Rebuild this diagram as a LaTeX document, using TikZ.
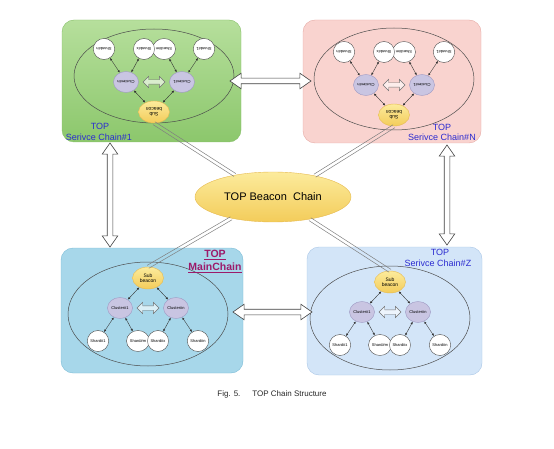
\documentclass[tikz,border=0pt]{standalone}
\usepackage{fontspec}
\setmainfont{Liberation Sans}
\usetikzlibrary{shapes.geometric,shapes.arrows,arrows.meta,calc}
\definecolor{gtop}{HTML}{B6DF9C}
\definecolor{gbot}{HTML}{8CC76C}
\definecolor{gborder}{HTML}{86BF68}
\definecolor{pfill}{HTML}{F9D3CF}
\definecolor{pborder}{HTML}{E6AAA4}
\definecolor{bfill}{HTML}{A7D7EA}
\definecolor{bborder}{HTML}{7CBCD6}
\definecolor{zfill}{HTML}{D3E5F8}
\definecolor{zborder}{HTML}{A9C6E6}
\definecolor{lblblue}{HTML}{2B2BD0}
\definecolor{mainmag}{HTML}{9C1A6A}
\definecolor{sbtop}{HTML}{FCEB9C}
\definecolor{sbbot}{HTML}{F3CC5A}
\definecolor{sbborder}{HTML}{E6BA50}
\definecolor{clfill}{HTML}{C9C5E2}
\definecolor{clborder}{HTML}{9C97C2}
\tikzset{
 bigell/.style={draw=black!70, line width=0.5pt, ellipse, minimum width=160pt, minimum height=102pt, inner sep=0},
 subb/.style={ellipse, draw=sbborder, top color=sbtop, bottom color=sbbot, minimum width=31pt, minimum height=22pt, inner sep=0, font=\fontsize{5}{5.5}\selectfont, align=center},
 clus/.style={ellipse, draw=clborder, fill=clfill, minimum width=25pt, minimum height=21pt, inner sep=0, font=\fontsize{4}{4}\selectfont},
 shard/.style={ellipse, draw=black!70, fill=white, minimum width=20pt, minimum height=21pt, inner sep=0, font=\fontsize{4}{4}\selectfont},
 link/.style={{Latex[length=2.5pt,width=2.2pt]}-{Latex[length=2.5pt,width=2.2pt]}, line width=0.4pt, draw=black!80},
 smallarrow/.style={double arrow, draw=black!55, fill=white, fill opacity=0.6, minimum height=22pt, minimum width=0pt, inner xsep=0pt, inner ysep=2pt, double arrow head extend=3.5pt},
 bigarrow/.style={double arrow, draw=black!75, fill=white, line width=0.6pt, minimum width=0pt, inner xsep=0pt, inner ysep=2.5pt, double arrow head extend=5pt, double arrow tip angle=70},
 dlink/.style={draw=black!50, line width=0.5pt},
 lbl/.style={text=lblblue, font=\fontsize{9}{10}\selectfont, inner sep=0},
 mlbl/.style={text=mainmag, font=\fontsize{10.5}{11}\selectfont\bfseries, inner sep=0},
}
\newcommand\chainstruct[2]{%
 \node[bigell, minimum height=#2] (#1-e) at (0,36) {};
 \node[subb] (#1-sb) at (0,0) {Sub\\beacon};
 \node[clus] (#1-c1) at (-28,30) {Cluster\#1};
 \node[clus] (#1-cn) at (28,30) {Cluster\#n};
 \node[smallarrow] (#1-ar) at (0,30) {};
 \node[shard] (#1-s1) at (-50,63) {Shard\#1};
 \node[shard] (#1-sm) at (-10,63) {Shard\#m};
 \node[shard] (#1-sx) at (10,63) {Shard\#x};
 \node[shard] (#1-sn) at (50,63) {Shard\#n};
 \draw[link] (#1-sb) -- (#1-c1);
 \draw[link] (#1-sb) -- (#1-cn);
 \draw[link] (#1-c1) -- (#1-s1);
 \draw[link] (#1-c1) -- (#1-sm);
 \draw[link] (#1-cn) -- (#1-sx);
 \draw[link] (#1-cn) -- (#1-sn);
}
% two parallel thin lines between two anchors
\newcommand\dbl[2]{%
 \draw[dlink] ($(#1)!1.7pt!90:(#2)$) -- ($(#2)!1.7pt!-90:(#1)$);
 \draw[dlink] ($(#1)!1.7pt!-90:(#2)$) -- ($(#2)!1.7pt!90:(#1)$);
}
\begin{document}
\begin{tikzpicture}[x=1pt,y=-1pt]
\useasboundingbox (0,0) rectangle (554,449);
% boxes
\path[rounded corners=12pt, draw=gborder, top color=gtop, bottom color=gbot] (62,20) rectangle (241,142);
\path[rounded corners=12pt, draw=pborder, fill=pfill] (303,20) rectangle (481,143);
\path[rounded corners=12pt, draw=bborder, fill=bfill] (61,248) rectangle (243,373);
\path[rounded corners=12pt, draw=zborder, fill=zfill] (307,247) rectangle (482,375);
% chain structures
\begin{scope}[shift={(154,112)}, rotate=180, transform shape]
 \chainstruct{g}{94pt}
\end{scope}
\begin{scope}[shift={(394,115)}, rotate=180, transform shape]
 \chainstruct{p}{102pt}
\end{scope}
\begin{scope}[shift={(148,278)}]
 \chainstruct{m}{104pt}
\end{scope}
\begin{scope}[shift={(390,282)}]
 \chainstruct{z}{104pt}
\end{scope}
% central beacon
\node[ellipse, draw=sbborder, top color=sbtop, bottom color=sbbot, minimum width=156pt, minimum height=50pt, inner sep=0, font=\fontsize{11}{12}\selectfont] (beacon) at (273,197) {TOP Beacon\ \ Chain};
\dbl{g-sb.north}{beacon.150}
\dbl{p-sb.north}{beacon.27}
\dbl{m-sb.north}{beacon.207}
\dbl{z-sb.north}{beacon.329}
% big arrows
\coordinate (tl) at (230,81);
\coordinate (tr) at (311,81);
\coordinate (bl) at (233,312);
\coordinate (br) at (312,312);
\coordinate (lt) at (110,143);
\coordinate (lb) at (110,247);
\coordinate (rt) at (447,145);
\coordinate (rb) at (447,245);
\node[bigarrow, minimum height=81pt] (atop) at ($(tl)!0.5!(tr)$) {};
\node[bigarrow, minimum height=79pt] (abot) at ($(bl)!0.5!(br)$) {};
\node[bigarrow, minimum height=104pt, rotate=90] (aleft) at ($(lt)!0.5!(lb)$) {};
\node[bigarrow, minimum height=100pt, rotate=90] (aright) at ($(rt)!0.5!(rb)$) {};
% labels
\node[lbl] (g-l1) at (100,126) {TOP};
\node[lbl] (g-l2) at (99,137) {Serivce Chain\#1};
\node[lbl] (p-l1) at (442,127) {TOP};
\node[lbl] (p-l2) at (442,137) {Serivce Chain\#N};
\node[mlbl] (m-l1) at (215,255) {\underline{TOP}};
\node[mlbl] (m-l2) at (215,268) {\underline{MainChain}};
\node[lbl] (z-l1) at (440,252) {TOP};
\node[lbl] (z-l2) at (438,263) {Serivce Chain\#Z};
% caption
\node[font=\fontsize{8}{9}\selectfont, text=black!85] (cap) at (272,394) {Fig. 5.\hspace{12pt}TOP Chain Structure};
\end{tikzpicture}
\end{document}
